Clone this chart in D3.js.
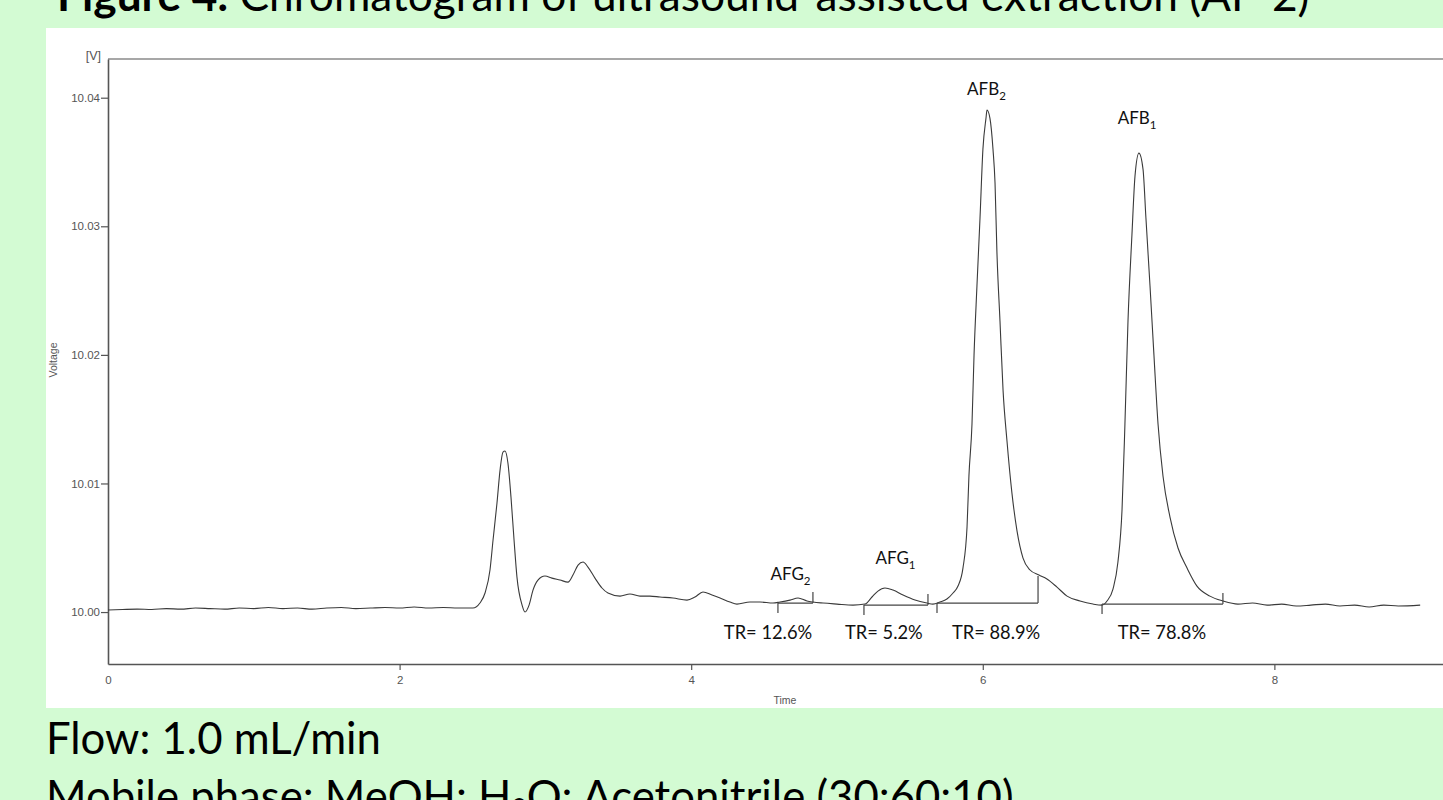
<!DOCTYPE html>
<html lang="en">
<head>
<meta charset="utf-8">
<title>Chromatogram AF-2</title>
<script src="https://d3js.org/d3.v7.min.js"></script>
<style>
  body { margin: 0; background: #d3fbd3; overflow: hidden; }
</style>
</head>
<body>
<script>

// Chromatogram trace (time in min, detector signal in V)
var traceTime = [0.00, 0.10, 0.20, 0.30, 0.40, 0.50, 0.60, 0.70, 0.80, 0.90,
  1.00, 1.10, 1.20, 1.30, 1.40, 1.50, 1.60, 1.70, 1.80, 1.90,
  2.00, 2.10, 2.20, 2.30, 2.40, 2.503, 2.551, 2.586, 2.620, 2.641,
  2.668, 2.689, 2.709, 2.723, 2.743, 2.764, 2.785, 2.805, 2.840, 2.860,
  2.888, 2.915, 2.949, 2.997, 3.045, 3.100, 3.155, 3.189, 3.224, 3.258,
  3.292, 3.340, 3.388, 3.429, 3.512, 3.580, 3.649, 3.717, 3.786, 3.875,
  3.971, 4.026, 4.081, 4.143, 4.198, 4.266, 4.314, 4.403, 4.472, 4.561,
  4.609, 4.678, 4.733, 4.794, 4.835, 4.904, 5.000, 5.110, 5.192, 5.240,
  5.281, 5.329, 5.384, 5.453, 5.535, 5.617, 5.658, 5.706, 5.754, 5.796,
  5.830, 5.864, 5.892, 5.905, 5.926, 5.940, 5.960, 5.981, 6.001, 6.022,
  6.029, 6.049, 6.070, 6.084, 6.097, 6.118, 6.139, 6.166, 6.200, 6.235,
  6.276, 6.324, 6.385, 6.440, 6.509, 6.578, 6.667, 6.756, 6.818, 6.852,
  6.893, 6.927, 6.955, 6.975, 6.996, 7.023, 7.044, 7.071, 7.099, 7.119,
  7.147, 7.174, 7.202, 7.236, 7.284, 7.339, 7.401, 7.469, 7.558, 7.647,
  7.75, 7.85, 7.95, 8.05, 8.15, 8.25, 8.35, 8.45, 8.55, 8.65,
  8.75, 8.85, 9.00];

var traceVolt = [10.00016, 10.00020, 10.00023, 10.00020, 10.00027, 10.00023, 10.00031, 10.00027, 10.00023, 10.00031,
  10.00027, 10.00035, 10.00027, 10.00031, 10.00023, 10.00031, 10.00035, 10.00027, 10.00031, 10.00035,
  10.00031, 10.00039, 10.00031, 10.00035, 10.00031, 10.00031, 10.00070, 10.00148, 10.00327, 10.00560,
  10.00848, 10.01104, 10.01244, 10.01252, 10.01159, 10.00894, 10.00560, 10.00272, 10.00054, 10.00000,
  10.00054, 10.00171, 10.00249, 10.00280, 10.00264, 10.00249, 10.00233, 10.00288, 10.00365, 10.00389,
  10.00350, 10.00264, 10.00187, 10.00148, 10.00124, 10.00140, 10.00124, 10.00124, 10.00117, 10.00109,
  10.00093, 10.00117, 10.00156, 10.00132, 10.00109, 10.00078, 10.00062, 10.00078, 10.00078, 10.00070,
  10.00078, 10.00093, 10.00109, 10.00086, 10.00078, 10.00070, 10.00062, 10.00054, 10.00062, 10.00117,
  10.00163, 10.00187, 10.00171, 10.00132, 10.00093, 10.00070, 10.00062, 10.00078, 10.00101, 10.00148,
  10.00202, 10.00342, 10.00661, 10.01058, 10.01462, 10.01998, 10.02535, 10.03064, 10.03600, 10.03841,
  10.03904, 10.03841, 10.03600, 10.03336, 10.02799, 10.02263, 10.01726, 10.01330, 10.00925, 10.00630,
  10.00420, 10.00327, 10.00288, 10.00257, 10.00194, 10.00124, 10.00086, 10.00062, 10.00054, 10.00086,
  10.00179, 10.00389, 10.00793, 10.01462, 10.02263, 10.02932, 10.03390, 10.03569, 10.03445, 10.03064,
  10.02535, 10.01998, 10.01462, 10.01058, 10.00739, 10.00498, 10.00342, 10.00202, 10.00124, 10.00086,
  10.00062, 10.00070, 10.00054, 10.00062, 10.00047, 10.00054, 10.00062, 10.00047, 10.00054, 10.00039,
  10.00054, 10.00047, 10.00054];

var xTicks = [0, 2, 4, 6, 8];
var yTicks = [10.00, 10.01, 10.02, 10.03, 10.04];

// peak labels
var peakNames = ["AFG", "AFG", "AFB", "AFB"];
var peakSubs = ["2", "1", "2", "1"];
var labelTime = [4.681, 5.401, 6.025, 7.058];
var labelVolt = [10.00249, 10.00373, 10.04020, 10.03795];

// integration baselines
var intStart = [4.595, 5.185, 5.686, 6.818];
var intEnd = [4.835, 5.624, 6.379, 7.647];
var intLevel = [10.00070, 10.00054, 10.00070, 10.00062];
var intEndTop = [10.00156, 10.00140, 10.00280, 10.00148];

// recovery labels
var trText = ["TR= 12.6%", "TR= 5.2%", "TR= 88.9%", "TR= 78.8%"];
var trTime = [4.527, 5.322, 6.091, 7.229];
var trVolt = 9.99790;

var W = 1443, H = 800;
var sans = "Lato, 'Open Sans', sans-serif";
var axisFont = "'Liberation Sans', Arial, sans-serif";

var svg = d3.select("body").append("svg")
    .attr("width", W)
    .attr("height", H);

// fit a text element to a target width by scaling its font-size
function fitWidth(t, w) {
  var size = parseFloat(t.attr("font-size"));
  var cur = t.node().getBBox().width;
  t.attr("font-size", size * w / cur);
  return size * w / cur;
}

// title (cut at top of slide)
var title = svg.append("text")
    .attr("x", 57)
    .attr("y", 11)
    .attr("font-family", sans)
    .attr("font-size", 44)
    .attr("fill", "#000");
title.append("tspan").attr("font-weight", "bold").text("Figure 4.");
title.append("tspan").text(" Chromatogram of ultrasound-assisted extraction (AF-2)");
fitWidth(title, 1253);

// white chart panel
svg.append("rect")
    .attr("x", 46)
    .attr("y", 28)
    .attr("width", W - 46)
    .attr("height", 680)
    .attr("fill", "#fff");

var x = d3.scaleLinear().domain([0, 9.16]).range([108, 1443.5]);
var y = d3.scaleLinear().domain([9.99596, 10.04301]).range([664, 59]);

// frame top line
svg.append("line")
    .attr("x1", x(0)).attr("x2", W)
    .attr("y1", y.range()[1]).attr("y2", y.range()[1])
    .attr("stroke", "#8a8a8a")
    .attr("stroke-width", 1.6);

var yAxis = svg.append("g")
    .attr("transform", "translate(" + x(0) + ",0)")
    .call(d3.axisLeft(y).tickValues(yTicks).tickFormat(d3.format(".2f"))
      .tickSize(7).tickSizeOuter(0).tickPadding(1));

var xAxis = svg.append("g")
    .attr("transform", "translate(0," + y.range()[0] + ")")
    .call(d3.axisBottom(x).tickValues(xTicks).tickFormat(d3.format("d"))
      .tickSize(6).tickSizeOuter(0).tickPadding(6));

[yAxis, xAxis].forEach(function(g) {
  g.select(".domain").attr("stroke", "#555").attr("stroke-width", 1.6);
  g.selectAll(".tick line").attr("stroke", "#555").attr("stroke-width", 1.2);
  g.selectAll(".tick text")
      .attr("font-family", axisFont)
      .attr("font-size", 11.5)
      .attr("fill", "#555");
});
xAxis.select(".tick line").remove();

svg.append("text")
    .attr("x", 101).attr("y", 60)
    .attr("text-anchor", "end")
    .attr("font-family", axisFont)
    .attr("font-size", 12.5)
    .attr("fill", "#555")
    .text("[V]");

svg.append("text")
    .attr("transform", "translate(57,360) rotate(-90)")
    .attr("text-anchor", "middle")
    .attr("font-family", axisFont)
    .attr("font-size", 10.5)
    .attr("fill", "#555")
    .text("Voltage");

svg.append("text")
    .attr("x", 785).attr("y", 704)
    .attr("text-anchor", "middle")
    .attr("font-family", axisFont)
    .attr("font-size", 10.5)
    .attr("fill", "#555")
    .text("Time");

// trace
var trace = traceTime.map(function(t, i) { return [t, traceVolt[i]]; });

svg.append("path")
    .datum(trace)
    .attr("fill", "none")
    .attr("stroke", "#3a3a3a")
    .attr("stroke-width", 1.1)
    .attr("d", d3.line()
      .x(function(d) { return x(d[0]); })
      .y(function(d) { return y(d[1]); })
      .curve(d3.curveMonotoneX));

// integration marks
var marks = svg.append("g")
    .attr("stroke", "#444")
    .attr("stroke-width", 1.2)
    .attr("fill", "none");

intStart.forEach(function(s, i) {
  var yl = y(intLevel[i]);
  marks.append("line")
      .attr("x1", x(s)).attr("x2", x(intEnd[i]))
      .attr("y1", yl).attr("y2", yl);
  marks.append("line")
      .attr("x1", x(s)).attr("x2", x(s))
      .attr("y1", yl).attr("y2", yl + 10);
  marks.append("line")
      .attr("x1", x(intEnd[i])).attr("x2", x(intEnd[i]))
      .attr("y1", yl).attr("y2", y(intEndTop[i]));
});

// peak names
peakNames.forEach(function(n, i) {
  var t = svg.append("text")
      .attr("x", x(labelTime[i]))
      .attr("y", y(labelVolt[i]))
      .attr("text-anchor", "middle")
      .attr("font-family", sans)
      .attr("font-size", 17)
      .attr("fill", "#111");
  t.append("tspan").text(n);
  t.append("tspan").attr("font-size", 11.5).attr("dy", 5).text(peakSubs[i]);
});

// recovery
trText.forEach(function(s, i) {
  svg.append("text")
      .attr("x", x(trTime[i]))
      .attr("y", y(trVolt))
      .attr("text-anchor", "middle")
      .attr("font-family", sans)
      .attr("font-size", 18.3)
      .attr("fill", "#111")
      .text(s);
});

// notes below the chart
var flow = svg.append("text")
    .attr("x", 46).attr("y", 754)
    .attr("font-family", sans)
    .attr("font-size", 42)
    .attr("fill", "#000")
    .text("Flow: 1.0 mL/min");
var fs = fitWidth(flow, 335);

var mob = svg.append("text")
    .attr("x", 46).attr("y", 812)
    .attr("font-family", sans)
    .attr("font-size", fs)
    .attr("fill", "#000");
mob.append("tspan").text("Mobile phase: MeOH: H");
mob.append("tspan").attr("font-size", fs * 0.6).attr("dy", 6).text("2");
mob.append("tspan").attr("dy", -6).text("O: Acetonitrile (30:60:10)");

</script>
</body>
</html>
